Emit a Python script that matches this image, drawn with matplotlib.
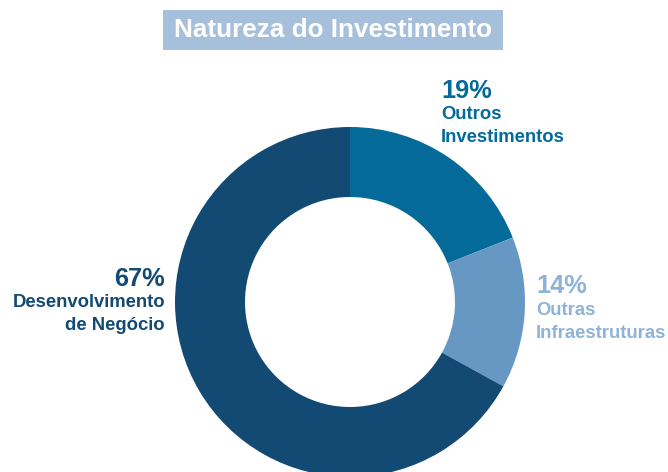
import matplotlib
matplotlib.use("Agg")
import matplotlib.pyplot as plt
from matplotlib.patches import Rectangle

title = "Natureza do Investimento"
categories = ["Outros\nInvestimentos", "Outras\nInfraestruturas", "Desenvolvimento\nde Negócio"]
values = [19, 14, 67]
wedge_colors = ["#036a99", "#6698c3", "#134a73"]
text_colors = ["#036a99", "#8fb3d6", "#134a73"]

plt.rcParams['font.family'] = ['Liberation Sans', 'DejaVu Sans']

W, H = 668, 472
fig = plt.figure(figsize=(W / 100, H / 100), dpi=100)
ax = fig.add_axes([0, 0, 1, 1])

ax.pie(values, colors=wedge_colors, startangle=90, counterclock=False,
       center=(350, H - 302), radius=175,
       wedgeprops=dict(width=70, edgecolor='none', linewidth=0))
ax.set_xlim(0, W)
ax.set_ylim(0, H)
ax.set_aspect('equal')
ax.axis('off')

# Title box
ax.add_patch(Rectangle((163, H - 50), 340, 40, facecolor="#a6c0dc", edgecolor='none'))
ax.text(333, H - 30, title, ha='center', va='center', color='white',
        fontsize=18.8, fontweight='bold')

# Labels: (x, pct baseline, line1 baseline, line2 baseline, ha)
label_pos = [
    (441, 98, 119, 142, 'left'),
    (536, 293, 315, 338, 'left'),
    (165, 286, 307, 330, 'right'),
]
for (x, yp, y1, y2, ha), cat, v, c in zip(label_pos, categories, values, text_colors):
    l1, l2 = cat.split("\n")
    ax.text(x, H - yp, f"{v}%", ha=ha, va='baseline', color=c, fontsize=18.3, fontweight='bold')
    ax.text(x, H - y1, l1, ha=ha, va='baseline', color=c, fontsize=13.3, fontweight='bold')
    ax.text(x, H - y2, l2, ha=ha, va='baseline', color=c, fontsize=13.3, fontweight='bold')

fig.savefig("out.png", dpi=100)
